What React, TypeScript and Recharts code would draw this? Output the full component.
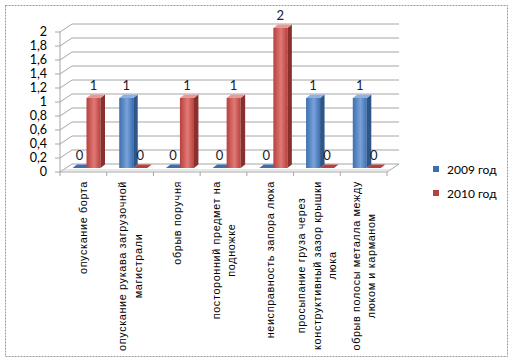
import React from 'react';
import { BarChart, Bar, XAxis, YAxis, CartesianGrid, Legend, LabelList } from 'recharts';

const categories = [
  'опускание борта',
  'опускание рукава загрузочной\nмагистрали',
  'обрыв поручня',
  'посторонний предмет на\nподножке',
  'неисправность запора люка',
  'просыпание груза через\nконструктивный зазор крышки\nлюка',
  'обрыв полосы металла между\nлюком и карманом',
];
const values2009 = [0, 1, 0, 0, 0, 1, 1];
const values2010 = [1, 0, 1, 1, 2, 0, 0];
const seriesNames = ['2009 год', '2010 год'];
const yTicks = [0, 0.2, 0.4, 0.6, 0.8, 1, 1.2, 1.4, 1.6, 1.8, 2];

const data = categories.map((name, i) => ({ name, y2009: values2009[i], y2010: values2010[i] }));

const CHART_W = 515;
const CHART_H = 363;
const PLOT_LEFT = 60;
const PLOT_RIGHT = 387;
const PLOT_TOP = 32;
const PLOT_BOTTOM = 172;
const BAND = (PLOT_RIGHT - PLOT_LEFT) / categories.length;

// 3D offsets
const BX = 12, BY = -8; // back wall
const OX = 3.5, OY = -4; // bar plane
const DX = 4.5, DY = -3.5; // bar depth

const GRID = '#a6a6a6';
const CAT_FONT = '"Liberation Sans", Arial, sans-serif';
const CAT_SIZE = 10.8;
const CAT_LS = 0.65;
const LINE_GAP = 15.5;
const NUM_FONT = 'Lato, Carlito, sans-serif';

let ctx: CanvasRenderingContext2D | null = null;
function measure(s: string): number {
  if (!ctx) {
    const c = document.createElement('canvas');
    ctx = c.getContext('2d');
  }
  if (!ctx) return s.length * 6;
  ctx.font = `${CAT_SIZE}px ${CAT_FONT}`;
  return ctx.measureText(s).width + CAT_LS * s.length;
}

const BLUE = { front1: '#3d6fb0', front2: '#79a2d8', side: '#2f568a', top: '#8fb1e0' };
const RED = { front1: '#b8403d', front2: '#e07a76', side: '#8a2f2d', top: '#e89a97' };

function makeShape(col: typeof BLUE, gid: string) {
  return (props: any) => {
    const { x, y, width, height } = props;
    if (x == null || y == null) return null;
    const fx = x + OX;
    const fy = y + OY;
    const w = width;
    const h = Math.max(0, height);
    const top = `${fx},${fy} ${fx + DX},${fy + DY} ${fx + w + DX},${fy + DY} ${fx + w},${fy}`;
    const side = `${fx + w},${fy} ${fx + w + DX},${fy + DY} ${fx + w + DX},${fy + h + DY} ${fx + w},${fy + h}`;
    return (
      <g>
        {h > 0 && <rect x={fx} y={fy} width={w} height={h} fill={`url(#${gid})`} />}
        {h > 0 && <polygon points={side} fill={col.side} />}
        <polygon points={top} fill={h > 0 ? col.top : col.front1} />
      </g>
    );
  };
}

const blueShape = makeShape(BLUE, 'gBlue');
const redShape = makeShape(RED, 'gRed');

function valueLabel(props: any) {
  const { x, y, width, value } = props;
  return (
    <text
      x={x + OX + width / 2}
      y={y + OY - 8}
      textAnchor="middle"
      fontFamily={NUM_FONT}
      fontSize={13}
      fill="#1a1a2a"
    >
      {value}
    </text>
  );
}

function gridLine(props: any) {
  const { x1, x2, y1, index } = props;
  const isFloor = Math.abs(y1 - PLOT_BOTTOM) < 1;
  return (
    <g key={`gl-${index}-${y1}`}>
      <line x1={x1} y1={y1} x2={x1 + BX} y2={y1 + BY} stroke={GRID} />
      <line x1={x1 + BX} y1={y1 + BY} x2={x2 + BX} y2={y1 + BY} stroke={GRID} />
      {isFloor && (
        <g>
          <line x1={x1} y1={y1} x2={x2} y2={y1} stroke={GRID} />
          <line x1={x2} y1={y1} x2={x2 + BX} y2={y1 + BY} stroke={GRID} />
          <line x1={x1 + 2} y1={y1 - 2} x2={x2 + 2} y2={y1 - 2} stroke="#d0d0d0" />
        </g>
      )}
    </g>
  );
}

function CatTick(props: any) {
  const { x, payload, index } = props;
  const lines: string[] = String(payload.value).split('\n');
  const n = lines.length;
  const L = Math.max(...lines.map(measure));
  const top = 181;
  const center = top + L / 2;
  const bx = x - BAND / 2;
  return (
    <g>
      <line x1={bx} y1={PLOT_BOTTOM} x2={bx} y2={PLOT_BOTTOM + 4} stroke={GRID} />
      {index === categories.length - 1 && (
        <line x1={x + BAND / 2} y1={PLOT_BOTTOM} x2={x + BAND / 2} y2={PLOT_BOTTOM + 4} stroke={GRID} />
      )}
      <g transform={`translate(${x},${center}) rotate(-90)`}>
        {lines.map((ln, i) => (
          <text
            key={i}
            x={0}
            y={(i - (n - 1) / 2) * LINE_GAP}
            textAnchor="middle"
            dominantBaseline="central"
            fontFamily={CAT_FONT}
            fontSize={CAT_SIZE}
            letterSpacing={CAT_LS}
            fill="#000"
          >
            {ln}
          </text>
        ))}
      </g>
    </g>
  );
}

function LegendContent() {
  const cols = [BLUE.front1, RED.front1];
  return (
    <div style={{ fontFamily: NUM_FONT, fontSize: 12, color: '#000' }}>
      {seriesNames.map((s, i) => (
        <div key={s} style={{ display: 'flex', alignItems: 'center', height: 24 }}>
          <span style={{ display: 'inline-block', width: 6, height: 6, background: cols[i], marginRight: 8 }} />
          <span>{s}</span>
        </div>
      ))}
    </div>
  );
}

export default function App() {
  return (
    <div style={{ position: 'absolute', left: 0, top: 0, width: CHART_W, height: CHART_H, background: '#fff' }}>
      <svg style={{ position: 'absolute', left: 0, top: 0 }} width={CHART_W} height={CHART_H}>
        <rect x={5.5} y={5.5} width={502} height={351} fill="#fff" stroke="#9a9a9a" strokeDasharray="2 1" />
      </svg>
      <div style={{ position: 'absolute', left: 0, top: 0 }}>
        <BarChart
          width={CHART_W}
          height={CHART_H}
          data={data}
          margin={{ top: PLOT_TOP, right: CHART_W - PLOT_RIGHT, left: 0, bottom: 0 }}
          barGap={0}
          barCategoryGap="20%"
        >
          <defs>
            <linearGradient id="gBlue" x1="0" y1="0" x2="1" y2="0">
              <stop offset="0" stopColor={BLUE.front1} />
              <stop offset="0.55" stopColor={BLUE.front2} />
              <stop offset="1" stopColor={BLUE.front1} />
            </linearGradient>
            <linearGradient id="gRed" x1="0" y1="0" x2="1" y2="0">
              <stop offset="0" stopColor={RED.front1} />
              <stop offset="0.55" stopColor={RED.front2} />
              <stop offset="1" stopColor={RED.front1} />
            </linearGradient>
          </defs>
          <CartesianGrid vertical={false} horizontal={gridLine as any} />
          <XAxis
            dataKey="name"
            height={CHART_H - PLOT_BOTTOM}
            interval={0}
            tickLine={false}
            axisLine={false}
            tick={<CatTick />}
          />
          <YAxis
            width={PLOT_LEFT}
            domain={[0, 2]}
            ticks={yTicks}
            interval={0}
            tickSize={5}
            tickMargin={8}
            axisLine={{ stroke: GRID }}
            tickLine={{ stroke: GRID }}
            tickFormatter={(v: number) => String(v).replace('.', ',')}
            tick={{ fontFamily: NUM_FONT, fontSize: 12.5, fill: '#000' }}
          />
          <Legend
            layout="vertical"
            align="center"
            verticalAlign="middle"
            content={<LegendContent />}
            wrapperStyle={{ left: 433, top: 157, width: 80, height: 50 }}
          />
          <Bar dataKey="y2009" name={seriesNames[0]} barSize={14} isAnimationActive={false} shape={blueShape} fill={BLUE.front1}>
            <LabelList dataKey="y2009" content={valueLabel} />
          </Bar>
          <Bar dataKey="y2010" name={seriesNames[1]} barSize={14} isAnimationActive={false} shape={redShape} fill={RED.front1}>
            <LabelList dataKey="y2010" content={valueLabel} />
          </Bar>
        </BarChart>
      </div>
    </div>
  );
}
